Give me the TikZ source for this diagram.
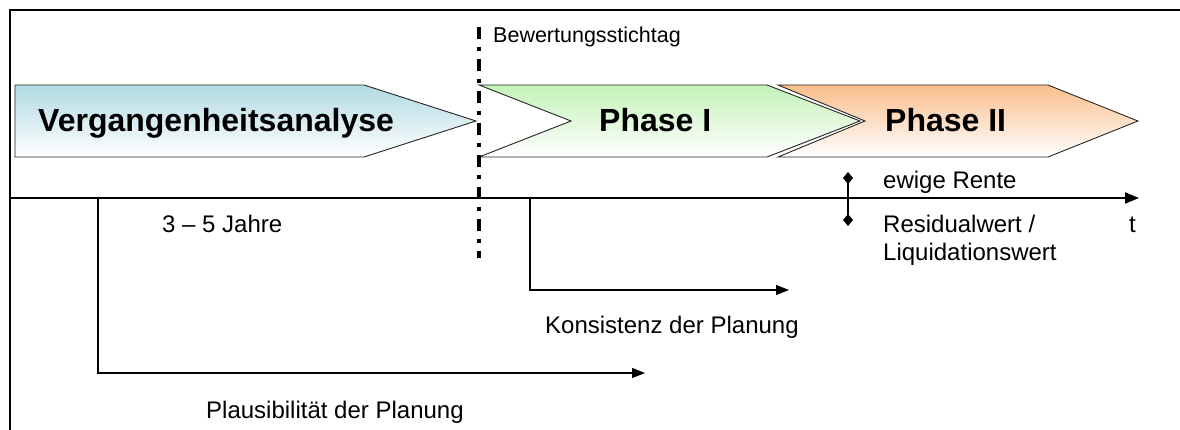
\documentclass[tikz,border=0pt]{standalone}
\usepackage{fontspec}
\setmainfont{Liberation Sans}
\usetikzlibrary{arrows.meta}

\definecolor{pastblue}{RGB}{178,218,226}
\definecolor{phasegreen}{RGB}{196,242,184}
\definecolor{phaseorange}{RGB}{250,190,140}

\tikzset{
	bigtext/.style={anchor=base west, inner sep=0pt, font=\fontsize{32}{38}\selectfont\bfseries},
	smalltext/.style={anchor=base west, inner sep=0pt, font=\fontsize{24}{25}\selectfont},
	phasebox/.style={draw=black!85, line width=0.9pt},
	spanline/.style={line width=1.4pt, -{Triangle[length=13pt,width=10pt]}},
}

\begin{document}
\begin{tikzpicture}[x=1pt,y=-1pt]
	\useasboundingbox (0,0) rectangle (1180,430);
	\draw[line width=2pt] (9.5,10) rectangle (1220,470);

	% phases
	\path[phasebox, top color=pastblue, bottom color=white]
		(15,85) -- (364,85) -- (476,121) -- (364,157) -- (15,157) -- cycle;
	\path[phasebox, top color=phasegreen, bottom color=white]
		(479,85) -- (767,85) -- (860,121) -- (767,157) -- (479,157) -- (571,121) -- cycle;
	\path[phasebox, top color=phaseorange, bottom color=white]
		(778,85) -- (1048,85) -- (1138,121) -- (1048,157) -- (778,157) -- (865,121) -- cycle;

	\node[bigtext] (past) at (38,132) {Vergangenheitsanalyse};
	\node[bigtext] (ph1) at (599,132) {Phase I};
	\node[bigtext] (ph2) at (885,132) {Phase II};

	% Stichtag
	\coordinate (cut top) at (479,27);
	\coordinate (cut bot) at (479,258);
	\draw[line width=3.5pt, dash pattern=on 12pt off 8pt on 4pt off 8pt] (cut top) -- (cut bot);
	\node[anchor=base west, inner sep=0pt, font=\fontsize{21.5}{24}\selectfont] (stichtag) at (493,43) {Bewertungsstichtag};

	% time axis
	\coordinate (ax0) at (10,198);
	\coordinate (ax1) at (1139,198);
	\draw[line width=2pt, -{Triangle[length=14pt,width=11pt]}] (ax0) -- (ax1);
	\node[smalltext] (t) at (1129,233) {t};
	\node[smalltext] (jahre) at (162,233) {3 -- 5 Jahre};

	% terminal value
	\coordinate (tv top) at (848,172);
	\coordinate (tv bot) at (848,226);
	\draw[line width=2pt, {Diamond[length=12pt,width=10pt]}-{Diamond[length=12pt,width=10pt]}] (tv top) -- (tv bot);
	\node[smalltext] (rente) at (883,189) {ewige Rente};
	\node[smalltext] (resid) at (883,233) {Residualwert /};
	\node[smalltext] (liquid) at (883,261) {Liquidationswert};

	% checks
	\coordinate (kon0) at (530,198);
	\coordinate (kon1) at (530,290);
	\coordinate (kon2) at (789,290);
	\draw[spanline] (kon0) -- (kon1) -- (kon2);
	\node[smalltext] (konsistenz) at (545,333) {Konsistenz der Planung};

	\coordinate (pla0) at (98,198);
	\coordinate (pla1) at (98,373);
	\coordinate (pla2) at (645,373);
	\draw[spanline] (pla0) -- (pla1) -- (pla2);
	\node[smalltext] (plausi) at (206,418) {Plausibilität der Planung};
\end{tikzpicture}
\end{document}
